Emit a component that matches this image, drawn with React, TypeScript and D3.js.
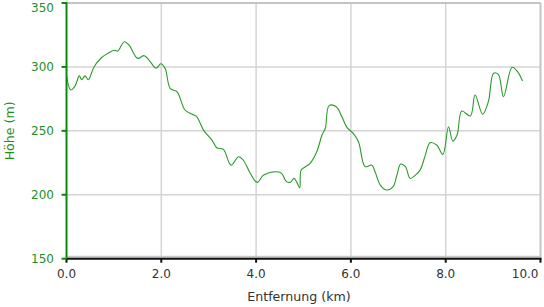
import React from "react";
import * as d3 from "d3";

const distKm = [0, 0.09, 0.18, 0.27, 0.32, 0.39, 0.46, 0.58, 0.73, 0.87, 1.01, 1.08, 1.22, 1.32, 1.5, 1.64, 1.74, 1.89, 1.99, 2.08, 2.19, 2.33, 2.5, 2.65, 2.75, 2.89, 3.07, 3.17, 3.31, 3.47, 3.63, 3.73, 3.88, 4.02, 4.16, 4.44, 4.54, 4.63, 4.72, 4.8, 4.86, 4.92, 4.95, 5.04, 5.14, 5.28, 5.39, 5.46, 5.54, 5.69, 5.81, 5.92, 6.05, 6.16, 6.3, 6.44, 6.51, 6.62, 6.76, 6.89, 6.97, 7.05, 7.15, 7.25, 7.36, 7.46, 7.57, 7.67, 7.81, 7.94, 8.06, 8.15, 8.24, 8.34, 8.52, 8.62, 8.78, 8.9, 9.01, 9.11, 9.22, 9.4, 9.52, 9.62];
const elevM = [293, 282, 285, 293, 290, 293, 290, 300, 307, 310.6, 313, 312.4, 319.7, 317, 306.7, 308.8, 305.4, 299, 302.5, 298.9, 283, 280.6, 266.3, 263, 261, 250.6, 242.8, 236.8, 235.5, 223.2, 229.7, 227, 216.7, 209.7, 215.4, 218, 216.7, 210.7, 209.7, 212.8, 209.7, 205.5, 219.3, 221.9, 224.6, 233.6, 246.7, 252, 269.7, 268.9, 261, 252.5, 248, 241.5, 222, 223.2, 218, 207.6, 203.7, 206.3, 215.4, 224, 222, 212.8, 215.4, 219.3, 231, 240.7, 238.9, 231.6, 253.2, 242, 246.7, 265.5, 261.6, 278, 263, 272.8, 295, 294.2, 276.7, 299.7, 296.2, 289];
const xTicks = [0, 2, 4, 6, 8, 10];
const yTicks = [150, 200, 250, 300, 350];
const xTitle = "Entfernung (km)";
const yTitle = "Höhe (m)";

export default function App() {
  const W = 544, H = 307;
  const x = d3.scaleLinear().domain([0, 10]).range([66.5, 540.5]);
  const y = d3.scaleLinear().domain([150, 350]).range([258.7, 3]);
  const pts: [number, number][] = distKm.map((d, i) => [d, elevM[i]]);
  const line = d3.line<[number, number]>()
    .x(d => x(d[0]))
    .y(d => y(d[1]))
    .curve(d3.curveCatmullRom.alpha(0.5));
  const font = "'DejaVu Sans', Verdana, sans-serif";
  const green = "#1f8f1f";
  return (
    <svg width={W} height={H} style={{ position: "absolute", left: 0, top: 0 }} fontFamily={font}>
      <rect x={0} y={0} width={W} height={H} fill="#fff" />
      {xTicks.slice(1, -1).map(t => (
        <line key={"gx" + t} x1={x(t)} x2={x(t)} y1={y(350)} y2={y(150)} stroke="#d4d4d4" strokeWidth={1.5} />
      ))}
      {yTicks.slice(1, -1).map(t => (
        <line key={"gy" + t} x1={x(0)} x2={x(10)} y1={y(t)} y2={y(t)} stroke="#d4d4d4" strokeWidth={1.5} />
      ))}
      <line x1={x(0)} x2={x(10)} y1={y(350)} y2={y(350)} stroke="#c4c4c4" strokeWidth={2} />
      <line x1={x(10)} x2={x(10)} y1={y(350)} y2={y(150)} stroke="#c4c4c4" strokeWidth={2} />
      <line x1={x(0)} x2={x(10)} y1={y(150) - 2} y2={y(150) - 2} stroke="#c8c8c8" strokeWidth={2} />
      <path d={line(pts) || ""} fill="none" stroke="#2a9a2a" strokeWidth={1.1} />
      <line x1={x(0)} x2={x(10) + 1} y1={y(150)} y2={y(150)} stroke="#111" strokeWidth={2} />
      {xTicks.map((t, i) => (
        <g key={"xt" + t}>
          <line x1={x(t)} x2={x(t)} y1={y(150)} y2={y(150) + 4} stroke="#111" strokeWidth={2} />
          <text x={i === xTicks.length - 1 ? x(t) - 2 : x(t)} y={278} textAnchor={i === xTicks.length - 1 ? "end" : "middle"} fontSize={12} fill="#333">{t.toFixed(1)}</text>
        </g>
      ))}
      <line x1={x(0)} x2={x(0)} y1={y(350) - 1} y2={y(150)} stroke="#0a8a0a" strokeWidth={2} />
      {yTicks.map((t, i) => (
        <g key={"yt" + t}>
          <line x1={x(0) - 5} x2={x(0)} y1={y(t)} y2={y(t)} stroke="#0a8a0a" strokeWidth={2} />
          <text x={54} y={i === yTicks.length - 1 ? y(t) + 9 : y(t) + 4.5} textAnchor="end" fontSize={12} fill={green}>{t}</text>
        </g>
      ))}
      <text x={299} y={301} textAnchor="middle" fontSize={12.6} fill="#333">{xTitle}</text>
      <text transform={`translate(14, ${(y(150) + y(350)) / 2}) rotate(-90)`} textAnchor="middle" fontSize={12.6} fill={green}>{yTitle}</text>
    </svg>
  );
}
